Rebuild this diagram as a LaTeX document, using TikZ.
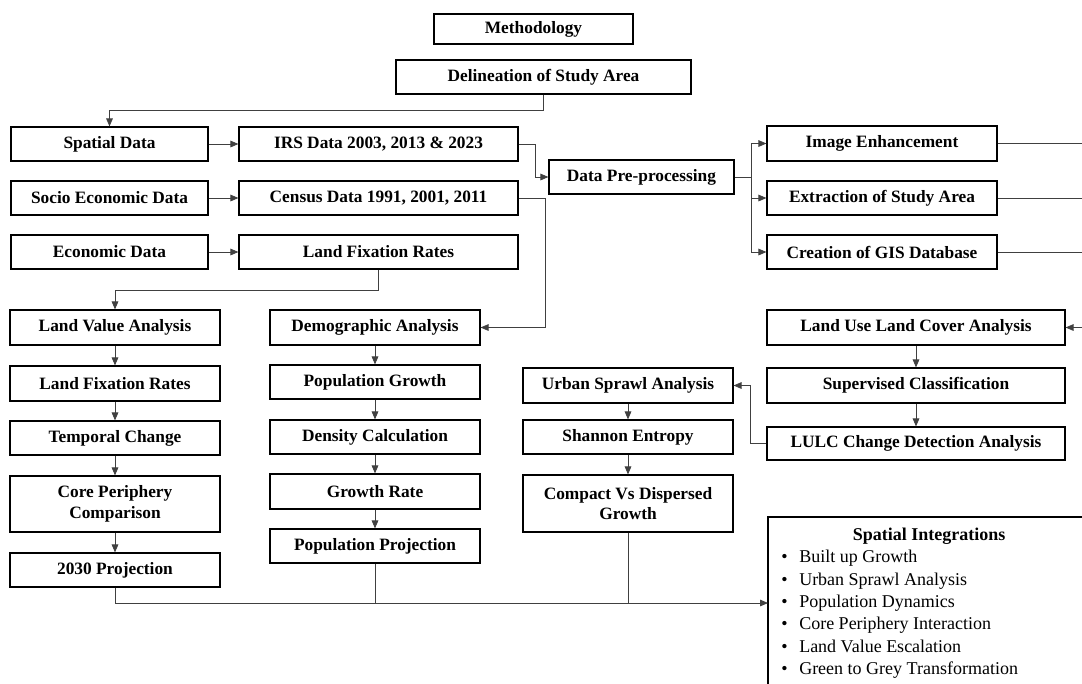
\documentclass[tikz,border=0pt]{standalone}
\usepackage{fontspec}
\setmainfont{Liberation Serif}
\usetikzlibrary{arrows.meta}
\newcommand\mkbox[6]{\node[box, minimum width={(#4-#2)*0.75pt}, minimum height={(#5-#3)*0.75pt}] (#1) at ({(#2+#4)/2},{(#3+#5)/2}) {#6};}
\newcommand\siitem[1]{\makebox[13.5pt][l]{\textbullet}#1}
\begin{document}
\begin{tikzpicture}[x=0.75pt,y=-0.75pt,
  box/.style={draw=black, line width=0.9pt, inner sep=1pt, align=center,
    font=\fontsize{13}{15.5}\selectfont\bfseries},
  conn/.style={draw=black!75, line width=0.6pt},
  arr/.style={conn, -{Triangle[length=6pt,width=5pt]}}]
\clip (0,0) rectangle (1082,683);
\fill[white] (0,0) rectangle (1082,683);
% boxes
\mkbox{meth}{434}{14}{633}{44}{Methodology}
\mkbox{delin}{396}{60}{691}{94}{Delineation of Study Area}
\mkbox{spatial}{11}{127}{208}{161}{Spatial Data}
\mkbox{irs}{239}{127}{518}{161}{IRS Data 2003, 2013 \& 2023}
\mkbox{socio}{11}{181}{208}{215}{Socio Economic Data}
\mkbox{census}{239}{181}{518}{215}{Census Data 1991, 2001, 2011}
\mkbox{econ}{11}{235}{208}{269}{Economic Data}
\mkbox{lfra}{239}{235}{518}{269}{Land Fixation Rates}
\mkbox{dp}{549}{160}{734}{194}{Data Pre-processing}
\mkbox{ie}{767}{126}{997}{161}{Image Enhancement}
\mkbox{ex}{767}{181}{997}{215}{Extraction of Study Area}
\mkbox{cr}{767}{235}{997}{269}{Creation of GIS Database}
\mkbox{lulc}{767}{310}{1065}{345}{Land Use Land Cover Analysis}
\mkbox{sup}{767}{368}{1065}{403}{Supervised Classification}
\mkbox{chg}{767}{427}{1065}{460}{LULC Change Detection Analysis}
\mkbox{usa}{523}{368}{733}{403}{Urban Sprawl Analysis}
\mkbox{sh}{523}{420}{733}{454}{Shannon Entropy}
\mkbox{cvd}{523}{475}{733}{532}{Compact Vs Dispersed\\Growth}
\mkbox{lva}{10}{310}{220}{345}{Land Value Analysis}
\mkbox{lfrb}{10}{366}{220}{401}{Land Fixation Rates}
\mkbox{tc}{10}{421}{220}{455}{Temporal Change}
\mkbox{cp}{10}{476}{220}{532}{Core Periphery\\Comparison}
\mkbox{ptt}{10}{553}{220}{587}{2030 Projection}
\mkbox{demo}{270}{310}{480}{345}{Demographic Analysis}
\mkbox{pg}{270}{365}{480}{399}{Population Growth}
\mkbox{dc}{270}{420}{480}{454}{Density Calculation}
\mkbox{gr}{270}{474}{480}{509}{Growth Rate}
\mkbox{pp}{270}{529}{480}{563}{Population Projection}
% spatial integrations box (runs off the page)
\draw[line width=0.9pt] (1100,517) -- (768,517) -- (768,700);
\node[font=\fontsize{13.5}{16}\selectfont\bfseries] (sititle) at (929,536) {Spatial Integrations};
\node[anchor=north west, align=left, inner sep=0pt, font=\fontsize{13.5}{16.8}\selectfont] (silist) at (781,550)
 {\siitem{Built up Growth}\\ \siitem{Urban Sprawl Analysis}\\ \siitem{Population Dynamics}\\
  \siitem{Core Periphery Interaction}\\ \siitem{Land Value Escalation}\\ \siitem{Green to Grey Transformation}};
\coordinate (siIn) at (768,603);
\coordinate (ieR) at (1082,143.5);
\coordinate (exR) at (1082,198);
\coordinate (crR) at (1082,252);
\coordinate (lulcR) at (1082,327.5);
% connectors
\draw[arr] (delin.south) -- ++(0,16) -| (spatial.north);
\draw[arr] (spatial.east) -- (irs.west);
\draw[arr] (socio.east) -- (census.west);
\draw[arr] (econ.east) -- (lfra.west);
\draw[arr] (irs.east) -- ++(17,0) |- (dp.west);
\draw[arr] (census.east) -- ++(27,0) |- (demo.east);
\draw[arr] (lfra.south) -- ++(0,21) -| (lva.north);
\draw[conn] (dp.east) -- ++(17,0) coordinate (split);
\draw[arr] (split) |- (ie.west);
\draw[arr] (split) |- (ex.west);
\draw[arr] (split) |- (cr.west);
\draw[conn] (ie.east) -- (ieR);
\draw[conn] (ex.east) -- (exR);
\draw[conn] (cr.east) -- (crR);
\draw[arr] (lulcR) -- (lulc.east);
\draw[arr] (lulc) -- (sup);
\draw[arr] (sup) -- (chg);
\draw[arr] (chg.west) -- ++(-16,0) |- (usa.east);
\draw[arr] (usa) -- (sh);
\draw[arr] (sh) -- (cvd);
\draw[arr] (lva) -- (lfrb);
\draw[arr] (lfrb) -- (tc);
\draw[arr] (tc) -- (cp);
\draw[arr] (cp) -- (ptt);
\draw[arr] (demo) -- (pg);
\draw[arr] (pg) -- (dc);
\draw[arr] (dc) -- (gr);
\draw[arr] (gr) -- (pp);
\draw[arr] (ptt.south) |- (siIn);
\draw[conn] (pp.south) -- (pp.south |- siIn);
\draw[conn] (cvd.south) -- (cvd.south |- siIn);
\end{tikzpicture}
\end{document}
